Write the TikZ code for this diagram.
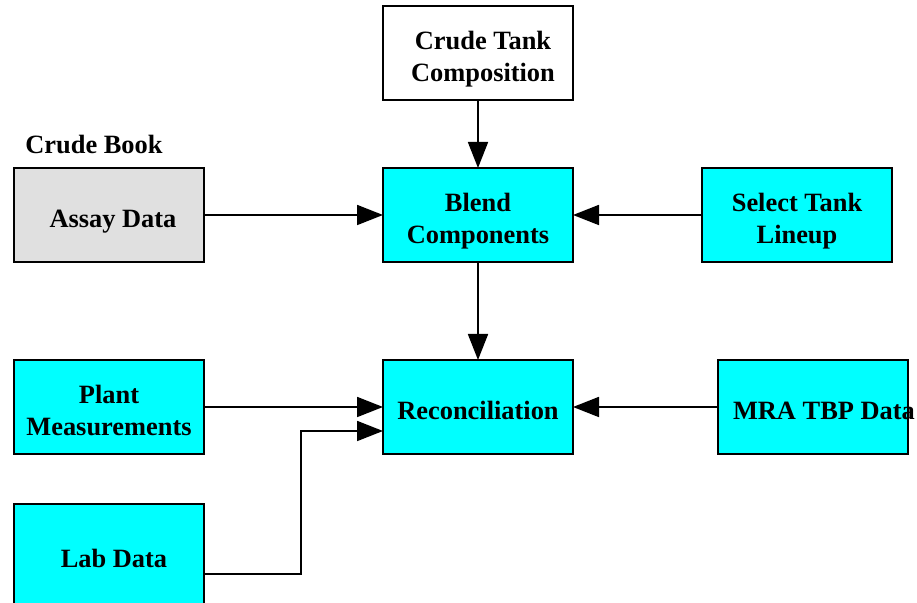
\documentclass[tikz,border=0pt]{standalone}
\usepackage{fontspec}
\setmainfont{Liberation Serif}
\usetikzlibrary{arrows.meta}
\definecolor{boxcyan}{HTML}{00FFFF}
\definecolor{bookgray}{HTML}{E0E0E0}

\begin{document}
\begin{tikzpicture}[x=0.5pt,y=-0.5pt,
	block/.style={draw,line width=1.2pt,fill=boxcyan,minimum width=95pt,minimum height=47pt,align=center,inner sep=2pt,outer sep=0pt,text depth=0pt,text height=13pt},
	twoline/.style={text height=29pt},
	flow/.style={line width=0.9pt,-{Triangle[length=13pt,width=10pt]}},
	font=\bfseries\fontsize{13.2}{16}\selectfont]
	\useasboundingbox (0,0) rectangle (917,603);
	\draw (478,53) node[block,twoline,fill=white] (tank) {\hspace{5pt}Crude Tank\\\hspace{5pt}Composition}
	(94,145) node (book) {Crude Book};
	\draw (109,215) node[block,fill=bookgray] (assay) {\hspace{4pt}Assay Data}
	(478,215) node[block,twoline] (blend) {Blend\\Components}
	(797,215) node[block,twoline] (lineup) {Select Tank\\Lineup};
	\draw (109,407) node[block,twoline] (plant) {Plant\\Measurements}
	(478,407) node[block] (recon) {Reconciliation}
	(813,407) node[block] (mra) {\makebox[80pt][l]{MRA TBP Data}};
	\draw (109,555) node[block,minimum height=51pt] (lab) {\hspace{5pt}Lab Data};
	\draw[flow] (tank) -- (blend); \draw[flow] (assay) -- (blend);
	\draw[flow] (lineup) -- (blend); \draw[flow] (blend) -- (recon);
	\draw[flow] (plant) -- (recon); \draw[flow] (mra) -- (recon);
	\draw[flow] ([yshift=-9.5pt]lab.east) -- ++(97,0) |- ([yshift=-12pt]recon.west);
\end{tikzpicture}
\end{document}
